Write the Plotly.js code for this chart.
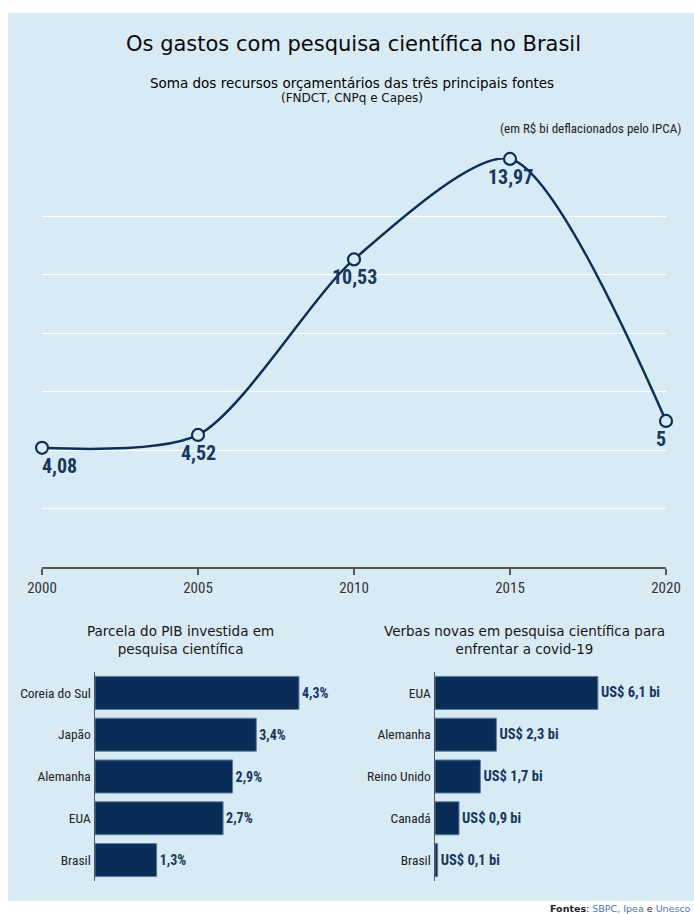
<!DOCTYPE html>
<html>
<head>
<meta charset="utf-8">
<script src="https://cdn.plot.ly/plotly-3.0.1.min.js"></script>
<style>
  html, body { margin: 0; padding: 0; background: #ffffff; }
  #chart { width: 694px; height: 914px; }
</style>
</head>
<body>
<div id="chart"></div>
<script>
// ---- Data ----
const years = [2000, 2005, 2010, 2015, 2020];
const spending = [4.08, 4.52, 10.53, 13.97, 5];

const pibCountries = ["Coreia do Sul", "Japão", "Alemanha", "EUA", "Brasil"];
const pibShare = [4.3, 3.4, 2.9, 2.7, 1.3];

const covidCountries = ["EUA", "Alemanha", "Reino Unido", "Canadá", "Brasil"];
const covidFunds = [6.1, 2.3, 1.7, 0.9, 0.1];

// ---- Styling ----
const W = 694, H = 914;
const px = v => v / W;
const py = v => 1 - v / H;
const NAVY = "#0c2f57";
const BAR = "#092d56";
const BG = "#d8ebf5";
const NARROW = "Liberation Sans Narrow, Roboto Condensed, Roboto, sans-serif";
const VERA = "DejaVu Sans, Verdana, sans-serif";
const labelXShift = [17, 0, 0, 0, -5];

const ptBr = v => String(v).replace(".", ",");

const lineTrace = {
  type: "scatter",
  mode: "lines+markers",
  x: years,
  y: spending,
  line: { shape: "spline", smoothing: 0.75, color: NAVY, width: 2.5 },
  marker: { size: 12, color: BG, line: { color: NAVY, width: 2.2 } },
  cliponaxis: false,
  hoverinfo: "skip",
  xaxis: "x", yaxis: "y"
};

const pibTrace = {
  type: "bar",
  orientation: "h",
  y: pibCountries,
  x: pibShare,
  text: pibShare.map(v => ptBr(v) + "%"),
  textposition: "outside",
  constraintext: "none",
  cliponaxis: false,
  textfont: { family: NARROW, size: 14, weight: "bold", color: "#17375e" },
  marker: { color: BAR, line: { color: "#5b7fa3", width: 1 } },
  hoverinfo: "skip",
  xaxis: "x2", yaxis: "y2"
};

const covidTrace = {
  type: "bar",
  orientation: "h",
  y: covidCountries,
  x: covidFunds,
  text: covidFunds.map(v => "US$ " + ptBr(v) + " bi"),
  textposition: "outside",
  constraintext: "none",
  cliponaxis: false,
  textfont: { family: NARROW, size: 14.5, weight: "bold", color: "#17375e" },
  marker: { color: BAR, line: { color: "#5b7fa3", width: 1 } },
  hoverinfo: "skip",
  xaxis: "x3", yaxis: "y3"
};

const barYAxis = (cats, left) => ({
  domain: [py(881), py(672)],
  anchor: left,
  type: "category",
  categoryorder: "array",
  categoryarray: cats,
  range: [4.5, -0.5],
  showline: true,
  linecolor: "#555",
  linewidth: 1.5,
  ticks: "",
  showgrid: false,
  zeroline: false,
  ticklabelstandoff: 0,
  tickfont: { family: NARROW, size: 13.5, color: "#222" }
});

const pointLabels = years.map((yr, i) => ({
  text: ptBr(spending[i]),
  xref: "x", yref: "y", x: yr, y: spending[i],
  xanchor: "center", yanchor: "middle",
  xshift: labelXShift[i], yshift: -18,
  showarrow: false,
  font: { family: NARROW, size: 20, weight: "bold", color: "#17375e" }
}));

const layout = {
  width: W,
  height: H,
  margin: { l: 0, r: 0, t: 0, b: 0, pad: 0 },
  paper_bgcolor: "#ffffff",
  plot_bgcolor: "rgba(0,0,0,0)",
  showlegend: false,
  bargap: 0.21,
  xaxis: {
    domain: [px(42), px(666)],
    anchor: "y",
    range: [2000, 2020],
    tick0: 2000,
    dtick: 5,
    showgrid: false,
    zeroline: false,
    showline: true,
    linecolor: "#555",
    linewidth: 1.5,
    ticks: "outside",
    ticklen: 6,
    tickcolor: "#555",
    tickwidth: 1.5,
    tickfont: { family: NARROW, size: 15, color: "#333" }
  },
  yaxis: {
    domain: [py(567), py(158)],
    anchor: "x",
    range: [0, 14.001],
    dtick: 2,
    tick0: 0,
    showgrid: true,
    gridcolor: "#ffffff",
    gridwidth: 1,
    zeroline: false,
    showticklabels: false,
    ticks: ""
  },
  xaxis2: {
    domain: [px(95), px(345)],
    anchor: "y2",
    range: [0, 5.27],
    visible: false
  },
  yaxis2: barYAxis(pibCountries, "x2"),
  xaxis3: {
    domain: [px(435), px(690)],
    anchor: "y3",
    range: [0, 9.55],
    visible: false
  },
  yaxis3: barYAxis(covidCountries, "x3"),
  shapes: [
    {
      type: "rect", xref: "paper", yref: "paper", layer: "below",
      x0: px(8), x1: 1, y0: py(901), y1: py(13),
      fillcolor: BG, line: { width: 0 }
    }
  ],
  annotations: pointLabels.concat([
    {
      text: "Os gastos com pesquisa científica no Brasil",
      xref: "paper", yref: "paper", x: px(353), y: py(44),
      xanchor: "center", yanchor: "middle", showarrow: false,
      font: { family: VERA, size: 21, color: "#0a0a0a" }
    },
    {
      text: "Soma dos recursos orçamentários das três principais fontes",
      xref: "paper", yref: "paper", x: px(352), y: py(83),
      xanchor: "center", yanchor: "middle", showarrow: false,
      font: { family: VERA, size: 13.5, color: "#000" }
    },
    {
      text: "(FNDCT, CNPq e Capes)",
      xref: "paper", yref: "paper", x: px(352), y: py(98),
      xanchor: "center", yanchor: "middle", showarrow: false,
      font: { family: VERA, size: 12, color: "#111" }
    },
    {
      text: "(em R$ bi deflacionados pelo IPCA)",
      xref: "paper", yref: "paper", x: px(683), y: py(128),
      xanchor: "right", yanchor: "middle", showarrow: false,
      font: { family: NARROW, size: 13, color: "#222" }
    },
    {
      text: "Parcela do PIB investida em<br>pesquisa científica",
      xref: "paper", yref: "paper", x: px(180), y: py(640),
      xanchor: "center", yanchor: "middle", showarrow: false,
      font: { family: VERA, size: 13.5, color: "#151515" }
    },
    {
      text: "Verbas novas em pesquisa científica para<br>enfrentar a covid-19",
      xref: "paper", yref: "paper", x: px(524), y: py(640),
      xanchor: "center", yanchor: "middle", showarrow: false,
      font: { family: VERA, size: 13.5, color: "#151515" }
    },
    {
      text: "<b>Fontes</b>: <span style=\"color:#4a76ad\">SBPC, Ipea</span> e <span style=\"color:#4a76ad\">Unesco</span>",
      xref: "paper", yref: "paper", x: px(693), y: py(908),
      xanchor: "right", yanchor: "middle", showarrow: false,
      font: { family: VERA, size: 9.5, color: "#222" }
    }
  ])
};

Plotly.newPlot("chart", [lineTrace, pibTrace, covidTrace], layout, { displayModeBar: false, staticPlot: true });
</script>
</body>
</html>
